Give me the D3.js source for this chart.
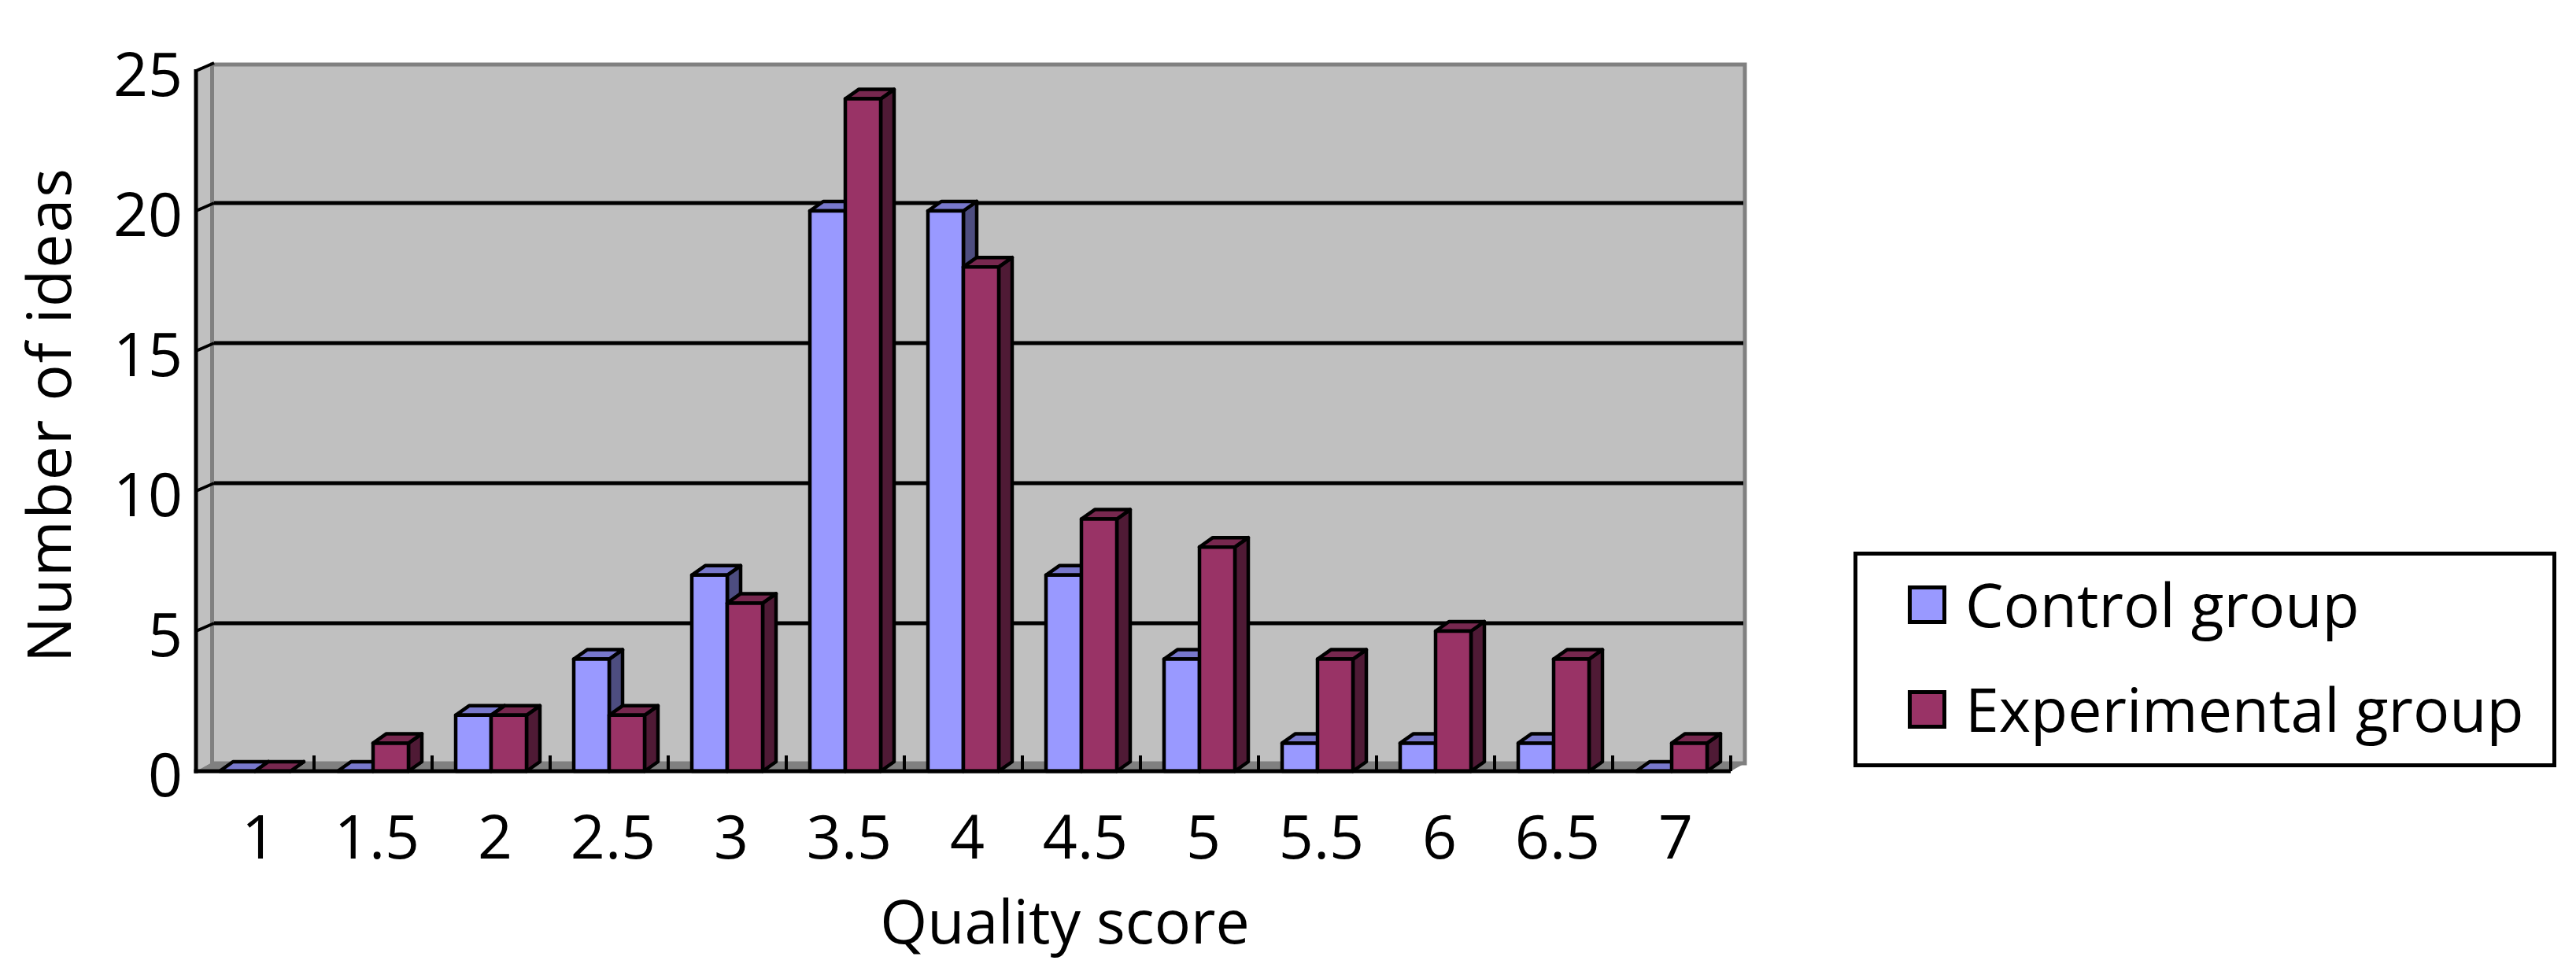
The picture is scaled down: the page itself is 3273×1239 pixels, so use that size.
<!DOCTYPE html>
<html>
<head>
<meta charset="utf-8">
<script src="https://cdnjs.cloudflare.com/ajax/libs/d3/7.8.5/d3.min.js"></script>
<style>
  body { margin: 0; background: #ffffff; }
  svg { display: block; }
  text { font-family: "Open Sans", "Noto Sans", sans-serif; fill: #000; }
</style>
</head>
<body>
<script>
// ---- Data ----
const categories = ["1", "1.5", "2", "2.5", "3", "3.5", "4", "4.5", "5", "5.5", "6", "6.5", "7"];
const seriesNames = ["Control group", "Experimental group"];
const controlValues = [0, 0, 2, 4, 7, 20, 20, 7, 4, 1, 1, 1, 0];
const experimentalValues = [0, 1, 2, 2, 6, 24, 18, 9, 8, 4, 5, 4, 1];
const yTickValues = [0, 5, 10, 15, 20, 25];
const xAxisTitle = "Quality score";
const yAxisTitle = "Number of ideas";

// ---- Styles ----
const frontColors = ["#9999ff", "#993366"];
const topColors = ["#7878cc", "#77284f"];
const sideColors = ["#4d4d80", "#4f1a35"];
const wallColor = "#c0c0c0";
const wallEdge = "#808080";
const FS = 77;

const W = 3273, H = 1239;
const svg = d3.select("body").append("svg").attr("width", W).attr("height", H);

// front plane geometry
const frontLeft = 249, frontRight = 2199;
const x0 = d3.scaleBand().domain(categories).range([frontLeft, frontRight]).padding(0);
const x1 = d3.scaleBand().domain(seriesNames).range([0, x0.bandwidth()]).paddingInner(0).paddingOuter(0.667);
const yF = d3.scaleLinear().domain([0, 25]).range([980, 90]);
const base = yF(0);
const wdx = 18, wdy = 10;   // wall depth offset
const bdx = 17, bdy = 12;   // bar depth offset

// back wall
const backTop = yF(25) - wdy, backBottom = base - wdy;
const backLeft = frontLeft + wdx, backRight = frontRight + wdx;
svg.append("rect")
  .attr("x", backLeft + 2.5).attr("y", backTop + 2)
  .attr("width", backRight - backLeft - 2.5).attr("height", backBottom - backTop - 2)
  .attr("fill", wallColor).attr("stroke", wallEdge).attr("stroke-width", 5);

// left wall
svg.append("polygon")
  .attr("points", [[frontLeft, yF(25)], [backLeft, backTop], [backLeft, backBottom], [frontLeft, base]].map(p => p.join(",")).join(" "))
  .attr("fill", wallColor);

// floor
svg.append("polygon")
  .attr("points", [[frontLeft, base], [backLeft, backBottom], [backRight, backBottom], [frontRight, base]].map(p => p.join(",")).join(" "))
  .attr("fill", wallEdge);

// gridlines on back wall
const gridVals = yTickValues.filter(v => v > 0 && v < 25);
svg.append("g").selectAll("line").data(gridVals).join("line")
  .attr("x1", backLeft + 5).attr("x2", backRight - 2)
  .attr("y1", v => yF(v) - wdy).attr("y2", v => yF(v) - wdy)
  .attr("stroke", "#000").attr("stroke-width", 5);
// gridline continuation on left wall
svg.append("g").selectAll("line").data(yTickValues.filter(v => v > 0)).join("line")
  .attr("x1", frontLeft).attr("x2", backLeft + 5)
  .attr("y1", v => yF(v)).attr("y2", v => yF(v) - wdy)
  .attr("stroke", "#000").attr("stroke-width", 4);

// x tick marks (category separators)
svg.append("g").selectAll("line").data(categories).join("line")
  .attr("x1", c => x0(c) + x0.bandwidth()).attr("x2", c => x0(c) + x0.bandwidth())
  .attr("y1", base - 20).attr("y2", base)
  .attr("stroke", "#000").attr("stroke-width", 4);

// bars
const rows = categories.map((c, i) => ({
  cat: c,
  vals: [controlValues[i], experimentalValues[i]]
}));
const bw = x1.bandwidth();
const pts = arr => arr.map(p => p.join(",")).join(" ");
const catG = svg.append("g").selectAll("g").data(rows).join("g");
catG.each(function(d) {
  const g = d3.select(this);
  seriesNames.forEach((s, si) => {
    const v = d.vals[si];
    const x = x0(d.cat) + x1(s);
    const yt = yF(v);
    const bar = g.append("g")
      .attr("stroke", "#000").attr("stroke-width", 4.5).attr("stroke-linejoin", "round");
    bar.append("polygon")
      .attr("points", pts([[x + bw, yt], [x + bw + bdx, yt - bdy], [x + bw + bdx, base - bdy], [x + bw, base]]))
      .attr("fill", sideColors[si]);
    bar.append("polygon")
      .attr("points", pts([[x, yt], [x + bw, yt], [x + bw + bdx, yt - bdy], [x + bdx, yt - bdy]]))
      .attr("fill", topColors[si]);
    bar.append("rect")
      .attr("x", x).attr("y", yt).attr("width", bw).attr("height", base - yt)
      .attr("fill", frontColors[si]);
  });
});

// front axis lines
svg.append("line")
  .attr("x1", frontLeft).attr("x2", frontLeft)
  .attr("y1", yF(25) - 2).attr("y2", base + 2.5)
  .attr("stroke", "#000").attr("stroke-width", 5);
svg.append("line")
  .attr("x1", frontLeft - 2.5).attr("x2", frontRight)
  .attr("y1", base).attr("y2", base)
  .attr("stroke", "#000").attr("stroke-width", 5);

// y axis labels via d3 axis
const yAxisG = svg.append("g")
  .attr("transform", `translate(232,4)`)
  .call(d3.axisLeft(yF).tickValues(yTickValues).tickSize(0).tickPadding(0));
yAxisG.select(".domain").remove();
yAxisG.selectAll("text")
  .attr("font-size", FS).attr("font-family", "'Open Sans', sans-serif")
  .attr("fill", "#000").attr("dy", "0.36em").attr("x", 0);

// x axis labels via d3 axis
const xAxisG = svg.append("g")
  .attr("transform", `translate(5,${base})`)
  .call(d3.axisBottom(x0).tickSize(0).tickPadding(0));
xAxisG.select(".domain").remove();
xAxisG.selectAll("text")
  .attr("font-size", FS).attr("font-family", "'Open Sans', sans-serif")
  .attr("fill", "#000").attr("y", 111).attr("dy", 0);

// axis titles
svg.append("text")
  .attr("x", 1353).attr("y", 1199)
  .attr("text-anchor", "middle").attr("font-size", FS)
  .text(xAxisTitle);
svg.append("text")
  .attr("transform", "translate(90,527) rotate(-90)")
  .attr("text-anchor", "middle").attr("font-size", FS)
  .attr("letter-spacing", 2)
  .text(yAxisTitle);

// legend
const legend = svg.append("g");
legend.append("rect")
  .attr("x", 2357.5).attr("y", 703.5).attr("width", 888).attr("height", 269)
  .attr("fill", "#fff").attr("stroke", "#000").attr("stroke-width", 5);
const legendY = d3.scalePoint().domain(seriesNames).range([746.5, 879.5]);
const li = legend.selectAll("g.item").data(seriesNames).join("g").attr("class", "item");
li.append("rect")
  .attr("x", 2426.5).attr("y", s => legendY(s)).attr("width", 44).attr("height", 44)
  .attr("fill", (s, i) => frontColors[i]).attr("stroke", "#000").attr("stroke-width", 5);
li.append("text")
  .attr("x", 2497).attr("y", s => legendY(s) + 50)
  .attr("font-size", FS)
  .text(s => s);
</script>
</body>
</html>
